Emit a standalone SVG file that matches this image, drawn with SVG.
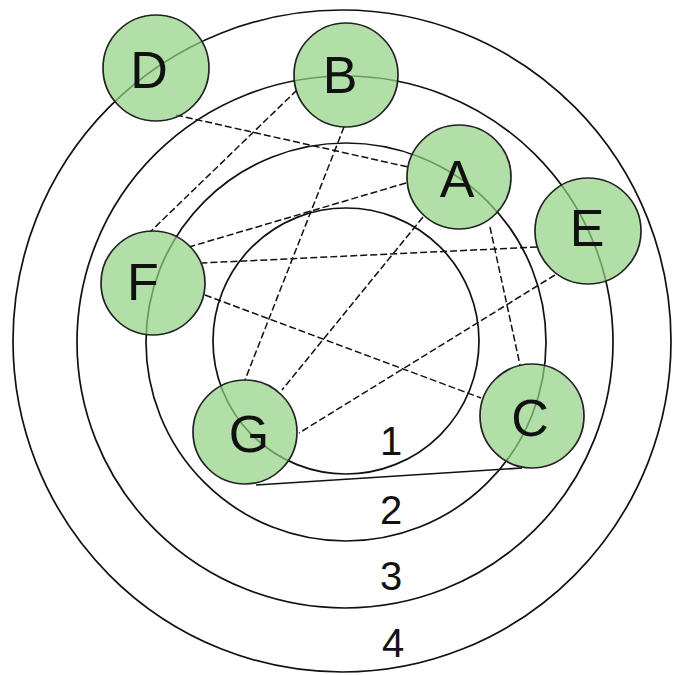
<svg xmlns="http://www.w3.org/2000/svg" width="674" height="675" viewBox="0 0 674 675">
<style>
.ring{fill:none;stroke:#111;stroke-width:1.7}
.dash{fill:none;stroke:#111;stroke-width:1.5;stroke-dasharray:7 3}
.solid{fill:none;stroke:#111;stroke-width:1.7}
.node circle{fill:#91d083;fill-opacity:0.7;stroke:#222;stroke-width:1.7}
.lbl{font-family:"Liberation Sans",Arial,sans-serif;font-size:52px;fill:#111;text-anchor:middle}
.num{font-family:"Liberation Sans",Arial,sans-serif;font-size:40px;fill:#111;text-anchor:middle}
</style>
<rect width="674" height="675" fill="#fff"/>
<g id="rings">
<ellipse class="ring" cx="342" cy="341" rx="329" ry="331"/>
<ellipse class="ring" cx="345" cy="342" rx="268" ry="266"/>
<ellipse class="ring" cx="346" cy="342" rx="200" ry="199"/>
<ellipse class="ring" cx="346" cy="341" rx="133" ry="133"/>
</g>
<g id="ring-labels">
<text class="num" x="391" y="455">1</text>
<text class="num" x="391" y="524">2</text>
<text class="num" x="391" y="590">3</text>
<text class="num" x="393" y="657">4</text>
</g>
<g id="connectors">
<line class="dash" x1="176" y1="115" x2="408" y2="167"/>
<line class="dash" x1="297" y1="90" x2="150" y2="232"/>
<line class="dash" x1="344" y1="127" x2="245" y2="380"/>
<line class="dash" x1="406" y1="183" x2="189" y2="247"/>
<line class="dash" x1="537" y1="247" x2="202" y2="263"/>
<line class="dash" x1="555" y1="275" x2="299" y2="433"/>
<line class="dash" x1="423" y1="217" x2="282" y2="390"/>
<line class="dash" x1="490" y1="227" x2="520" y2="365"/>
<line class="dash" x1="205" y1="295" x2="481" y2="398"/>
<line class="solid" x1="256" y1="485" x2="522" y2="468"/>
</g>
<g id="node-D" class="node"><circle cx="156" cy="68" r="53"/><text class="lbl" x="149" y="88">D</text></g>
<g id="node-B" class="node"><circle cx="346" cy="75" r="52"/><text class="lbl" x="340" y="93">B</text></g>
<g id="node-A" class="node"><circle cx="459" cy="177" r="52"/><text class="lbl" x="457" y="197">A</text></g>
<g id="node-E" class="node"><circle cx="588" cy="231" r="53"/><text class="lbl" x="587" y="246">E</text></g>
<g id="node-F" class="node"><circle cx="153" cy="283" r="52"/><text class="lbl" x="143" y="300">F</text></g>
<g id="node-G" class="node"><circle cx="245" cy="432" r="52"/><text class="lbl" x="249" y="452">G</text></g>
<g id="node-C" class="node"><circle cx="532" cy="416" r="52"/><text class="lbl" x="530" y="436">C</text></g>
</svg>
